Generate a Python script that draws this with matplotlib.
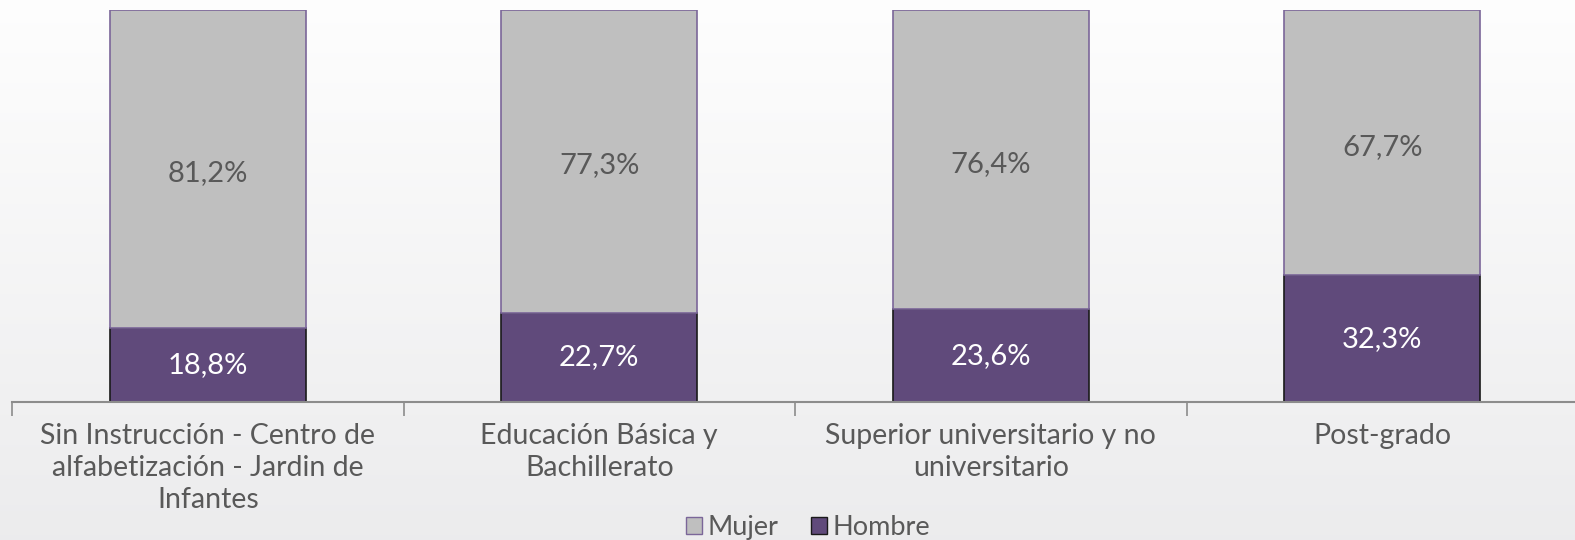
import numpy as np
import matplotlib.pyplot as plt
from matplotlib.patches import Patch

categorias = ['Sin Instrucción - Centro de\nalfabetización - Jardin de\nInfantes',
              'Educación Básica y\nBachillerato',
              'Superior universitario y no\nuniversitario',
              'Post-grado']
hombre = [18.8, 22.7, 23.6, 32.3]
mujer = [81.2, 77.3, 76.4, 67.7]

plt.rcParams['font.family'] = ['Lato', 'DejaVu Sans']

fig = plt.figure(figsize=(15.75, 5.4), dpi=100)

# fondo claro con degradado suave (blanco arriba, gris claro abajo)
bg = fig.add_axes([0, 0, 1, 1], zorder=-10)
t = np.linspace(0, 1, 256).reshape(-1, 1, 1)
top_c = np.array([0.995, 0.995, 0.995])
bot_c = np.array([0.925, 0.925, 0.93])
grad = top_c * (1 - t) + bot_c * t
bg.imshow(grad, aspect='auto', extent=[0, 1, 0, 1])
bg.axis('off')

ax = fig.add_axes([12 / 1575, 138 / 540, 1566 / 1575, 392 / 540])
ax.patch.set_alpha(0)

x = np.arange(len(categorias))
ax.bar(x, hombre, width=0.5, color='#604A7B', edgecolor='#1a1a1a',
       linewidth=1.2, label='Hombre')
ax.bar(x, mujer, width=0.5, bottom=hombre, color='#BFBFBF',
       edgecolor='#7B6699', linewidth=1.2, label='Mujer')

for i in range(len(x)):
    ax.text(x[i], hombre[i] / 2, f'{hombre[i]:.1f}%'.replace('.', ','),
            ha='center', va='center', color='white', fontsize=21)
    ax.text(x[i], hombre[i] + mujer[i] / 2 - 1,
            f'{mujer[i]:.1f}%'.replace('.', ','),
            ha='center', va='center', color='#595959', fontsize=21)

ax.set_xlim(-0.5, len(x) - 0.5)
ax.set_ylim(0, 100)
ax.set_yticks([])
for s in ['top', 'right', 'left']:
    ax.spines[s].set_visible(False)
ax.spines['bottom'].set_color('#8c8c8c')
ax.spines['bottom'].set_linewidth(1.5)

ax.set_xticks(np.arange(len(x) + 1) - 0.5, minor=True)
ax.tick_params(axis='x', which='minor', length=10, color='#8c8c8c', width=1.2)
ax.set_xticks(x)
ax.set_xticklabels(categorias, fontsize=20.5, color='#595959', linespacing=1.3)
ax.tick_params(axis='x', which='major', length=0, pad=15)

handles = [Patch(facecolor='#BFBFBF', edgecolor='#7B6699', label='Mujer'),
           Patch(facecolor='#604A7B', edgecolor='#1a1a1a', label='Hombre')]
fig.legend(handles=handles, loc='lower center', ncol=2, frameon=False,
           bbox_to_anchor=(0.513, -0.045), fontsize=19.5, labelcolor='#595959',
           handlelength=0.6, handleheight=0.6, handletextpad=0.2,
           columnspacing=1.2)

fig.savefig('out.png', dpi=100)
